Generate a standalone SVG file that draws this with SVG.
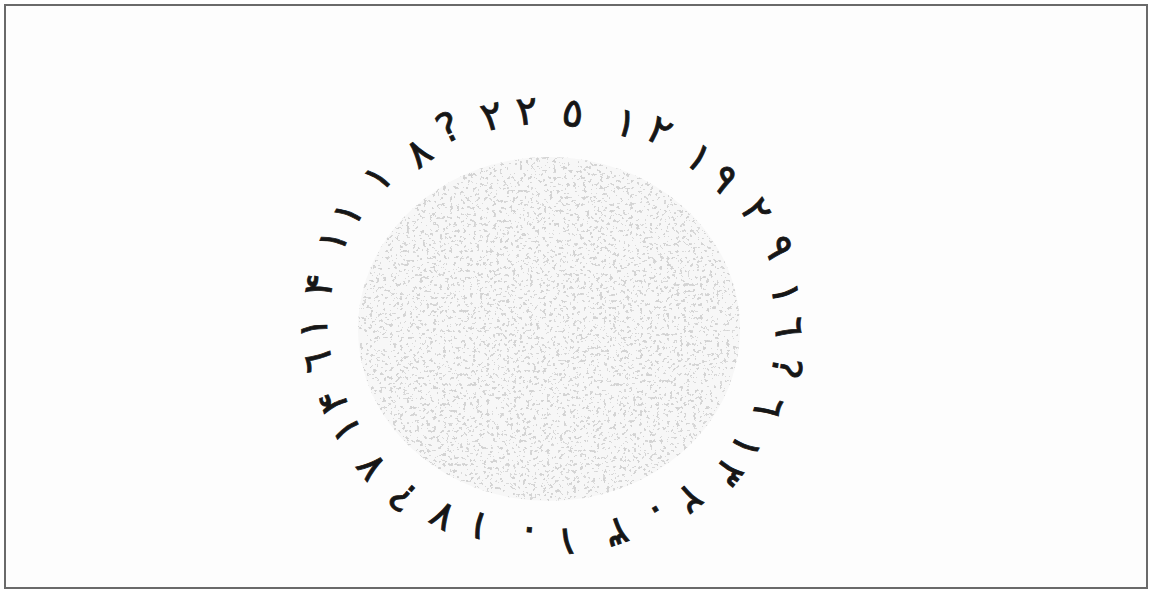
<svg xmlns="http://www.w3.org/2000/svg" width="1153" height="592" viewBox="0 0 1153 592">
<style>
.d{font-family:"DejaVu Sans",sans-serif;font-size:40px;font-weight:normal;fill:#161616;stroke:#161616;stroke-width:0.8;text-anchor:middle}
</style>
<defs>
<filter id="stip" x="0" y="0" width="100%" height="100%" filterUnits="objectBoundingBox">
<feTurbulence type="fractalNoise" baseFrequency="0.3" numOctaves="3" seed="11" result="n"/>
<feColorMatrix in="n" type="matrix" values="0 0 0 0 0.62 0 0 0 0 0.62 0 0 0 0 0.62 1.6 0 0 0 -0.3" result="a"/>
<feComponentTransfer in="a" result="dots"><feFuncA type="discrete" tableValues="0 0 0 0 0 0 0 0.7 0.9 0.9"/></feComponentTransfer>
<feComposite in="dots" in2="SourceGraphic" operator="in"/>
</filter>
</defs>
<rect x="0" y="0" width="1153" height="592" fill="#ffffff"/>
<rect x="5" y="5" width="1142" height="583" fill="#fdfdfd" stroke="#6a6a6a" stroke-width="2"/>
<g id="disc">
<ellipse cx="549" cy="329" rx="191" ry="172" fill="#f7f7f7"/>
<ellipse cx="549" cy="329" rx="191" ry="172" fill="#000" filter="url(#stip)"/>
</g>
<g id="ring">
<text class="d" transform="translate(573,112) rotate(7)" dy="0.36em">٥</text>
<text class="d" transform="translate(627,122) rotate(18)" dy="0.36em">١</text>
<text class="d" transform="translate(660,130) rotate(29)" dy="0.36em">٢</text>
<text class="d" transform="translate(700,157) rotate(41)" dy="0.36em">١</text>
<text class="d" transform="translate(725,178) rotate(49)" dy="0.36em">٩</text>
<text class="d" transform="translate(757,210) rotate(60)" dy="0.36em">٢</text>
<text class="d" transform="translate(780,247) rotate(70)" dy="0.36em">٩</text>
<text class="d" transform="translate(787,293) rotate(81)" dy="0.36em">١</text>
<text class="d" transform="translate(790,327) rotate(89)" dy="0.36em">٦</text>
<text class="d" transform="translate(787,368) rotate(99)" dy="0.36em">?</text>
<text class="d" transform="translate(770,407) rotate(109)" dy="0.36em">٦</text>
<text class="d" transform="translate(747,447) rotate(120)" dy="0.36em">١</text>
<text class="d" transform="translate(730,473) rotate(128)" dy="0.36em">٣</text>
<text class="d" transform="translate(690,500) rotate(140)" dy="0.36em">٢</text>
<text class="d" transform="translate(657,512) rotate(149)" dy="0.36em">٠</text>
<text class="d" transform="translate(617,533) rotate(161)" dy="0.36em">٣</text>
<text class="d" transform="translate(567,543) rotate(175)" dy="0.36em">١</text>
<text class="d" transform="translate(529,533) rotate(185)" dy="0.36em">٠</text>
<text class="d" transform="translate(478,527) rotate(200)" dy="0.36em">١</text>
<text class="d" transform="translate(442,517) rotate(210)" dy="0.36em">٧</text>
<text class="d" transform="translate(403,497) rotate(221)" dy="0.36em">?</text>
<text class="d" transform="translate(370,468) rotate(232)" dy="0.36em">٧</text>
<text class="d" transform="translate(345,430) rotate(244)" dy="0.36em">١</text>
<text class="d" transform="translate(332,402) rotate(252)" dy="0.36em">۴</text>
<text class="d" transform="translate(317,362) rotate(262)" dy="0.36em">٦</text>
<text class="d" transform="translate(313,328) rotate(270)" dy="0.36em">١</text>
<text class="d" transform="translate(318,285) rotate(281)" dy="0.36em">۴</text>
<text class="d" transform="translate(332,240) rotate(292)" dy="0.36em">١</text>
<text class="d" transform="translate(347,213) rotate(300)" dy="0.36em">١</text>
<text class="d" transform="translate(377,177) rotate(312)" dy="0.36em">١</text>
<text class="d" transform="translate(418,152) rotate(323)" dy="0.36em">٨</text>
<text class="d" transform="translate(448,127) rotate(334)" dy="0.36em">?</text>
<text class="d" transform="translate(492,115) rotate(345)" dy="0.36em">٢</text>
<text class="d" transform="translate(527,110) rotate(354)" dy="0.36em">٢</text>
</g>
</svg>
